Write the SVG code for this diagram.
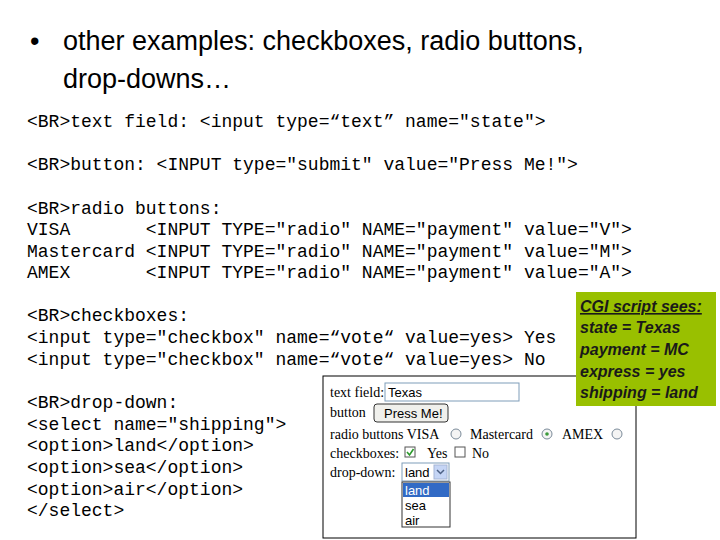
<svg xmlns="http://www.w3.org/2000/svg" width="720" height="540" viewBox="0 0 720 540">
<style>
.t{font-family:"Liberation Sans",Arial,sans-serif;font-size:27px;fill:#000}
.c{font-family:"Liberation Mono","Courier New",monospace;font-size:18px;fill:#000;white-space:pre}
.s{font-family:"Liberation Serif","Times New Roman",serif;font-size:14px;fill:#000}
.w{font-family:"Liberation Sans",Arial,sans-serif;font-size:13px;fill:#000}
.g{font-family:"Liberation Sans",Arial,sans-serif;font-size:16px;font-style:italic;font-weight:bold;fill:#1a1a1a}
</style>
<rect width="720" height="540" fill="#fff"/>
<g id="title">
<text class="t" x="30" y="50">•</text>
<text class="t" x="63" y="50">other examples: checkboxes, radio buttons,</text>
<text class="t" x="63" y="88">drop-downs…</text>
</g>
<g id="code">
<text class="c" x="27" y="127" xml:space="preserve">&lt;BR&gt;text field: &lt;input type=“text” name="state"&gt;</text>
<text class="c" x="27" y="170" xml:space="preserve">&lt;BR&gt;button: &lt;INPUT type="submit" value="Press Me!"&gt;</text>
<text class="c" x="27" y="214" xml:space="preserve">&lt;BR&gt;radio buttons:</text>
<text class="c" x="27" y="235" xml:space="preserve">VISA       &lt;INPUT TYPE="radio" NAME="payment" value="V"&gt;</text>
<text class="c" x="27" y="257" xml:space="preserve">Mastercard &lt;INPUT TYPE="radio" NAME="payment" value="M"&gt;</text>
<text class="c" x="27" y="278" xml:space="preserve">AMEX       &lt;INPUT TYPE="radio" NAME="payment" value="A"&gt;</text>
<text class="c" x="27" y="321" xml:space="preserve">&lt;BR&gt;checkboxes:</text>
<text class="c" x="27" y="343" xml:space="preserve">&lt;input type="checkbox" name=“vote“ value=yes&gt; Yes</text>
<text class="c" x="27" y="365" xml:space="preserve">&lt;input type="checkbox" name=“vote“ value=yes&gt; No</text>
<text class="c" x="27" y="408" xml:space="preserve">&lt;BR&gt;drop-down:</text>
<text class="c" x="27" y="430" xml:space="preserve">&lt;select name="shipping"&gt;</text>
<text class="c" x="27" y="451" xml:space="preserve">&lt;option&gt;land&lt;/option&gt;</text>
<text class="c" x="27" y="473" xml:space="preserve">&lt;option&gt;sea&lt;/option&gt;</text>
<text class="c" x="27" y="495" xml:space="preserve">&lt;option&gt;air&lt;/option&gt;</text>
<text class="c" x="27" y="516" xml:space="preserve">&lt;/select&gt;</text>
</g>
<g id="screenshot">
<rect x="323" y="376" width="313" height="162" fill="#fff" stroke="#000" stroke-width="1"/>
<text class="s" x="330" y="397">text field:</text>
<rect x="385" y="383" width="134" height="18" fill="#fff" stroke="#7f9db9"/>
<text class="w" x="388" y="397">Texas</text>
<text class="s" x="330" y="417">button</text>
<rect x="374" y="404" width="74" height="18" rx="3" fill="#f0f0ec" stroke="#333"/>
<text class="w" x="384" y="418">Press Me!</text>
<text class="s" x="330" y="439">radio buttons  VISA</text>
<circle cx="456" cy="434" r="5" fill="#f4f4f4" stroke="#7a8a99"/>
<text class="s" x="470" y="439">Mastercard</text>
<circle cx="547" cy="434" r="5" fill="#f4f4f4" stroke="#7a8a99"/>
<circle cx="547" cy="434" r="1.8" fill="#3a9a3a"/>
<text class="s" x="562" y="439">AMEX</text>
<circle cx="617" cy="434" r="5" fill="#f4f4f4" stroke="#7a8a99"/>
<text class="s" x="330" y="458">checkboxes:</text>
<rect x="405" y="447" width="10" height="10" fill="#fff" stroke="#555"/>
<path d="M407 452 l2.5 3 l4 -6" fill="none" stroke="#2a9a2a" stroke-width="1.6"/>
<text class="s" x="427" y="458">Yes</text>
<rect x="455" y="447" width="10" height="10" fill="#fff" stroke="#555"/>
<text class="s" x="472" y="458">No</text>
<text class="s" x="330" y="477">drop-down:</text>
<rect x="402" y="463" width="47" height="18" fill="#fff" stroke="#7f9db9"/>
<text class="w" x="405" y="477">land</text>
<rect x="434" y="465" width="13" height="14" fill="#c5d5f5" stroke="#a5b5d5"/>
<path d="M437 470 l3.5 3.5 l3.5 -3.5" fill="none" stroke="#4d6185" stroke-width="1.5"/>
<rect x="402" y="482" width="48" height="45" fill="#fff" stroke="#333"/>
<rect x="403" y="483" width="46" height="14" fill="#316ac5"/>
<text class="w" x="405" y="495" style="fill:#fff">land</text>
<text class="w" x="405" y="510">sea</text>
<text class="w" x="405" y="525">air</text>
</g>
<g id="cgi-box">
<rect x="576" y="292" width="140" height="114" fill="#99c000"/>
<text class="g" x="580" y="312" text-decoration="underline">CGI script sees:</text>
<text class="g" x="580" y="333">state = Texas</text>
<text class="g" x="580" y="355">payment = MC</text>
<text class="g" x="580" y="377">express = yes</text>
<text class="g" x="580" y="398">shipping = land</text>
</g>
</svg>
